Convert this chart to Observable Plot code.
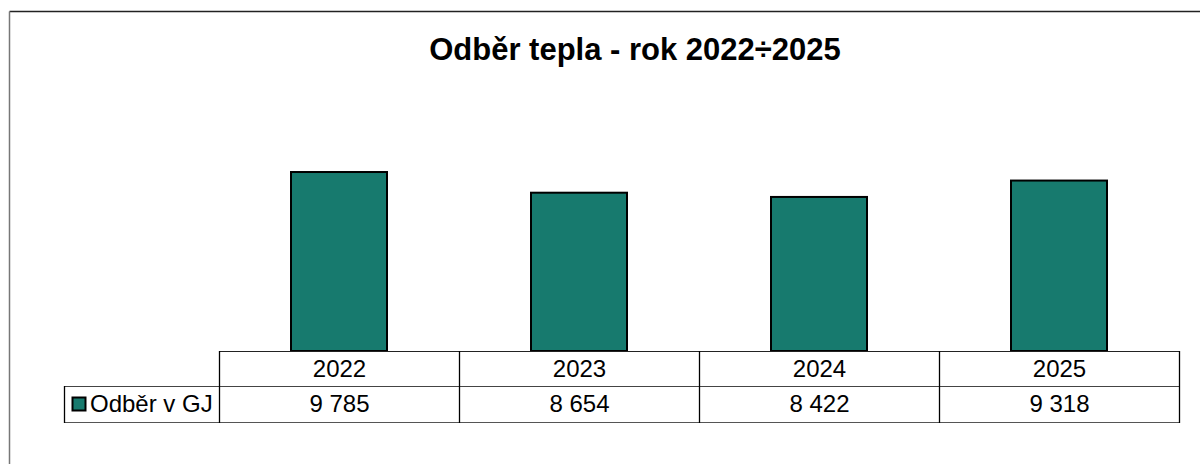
<!DOCTYPE html>
<html>
<head>
<meta charset="utf-8">
<script src="https://cdn.jsdelivr.net/npm/d3@7"></script>
<script src="https://cdn.jsdelivr.net/npm/@observablehq/plot@0.6"></script>
<style>
  html, body { margin: 0; padding: 0; background: #fff; }
  svg { display: block; }
</style>
</head>
<body>
<div id="chart"></div>
<script>
const title = "Odběr tepla - rok 2022÷2025";
const seriesName = "Odběr v GJ";
const years = ["2022", "2023", "2024", "2025"];
const values = [9785, 8654, 8422, 9318];

const data = years.map((y, i) => ({year: y, value: values[i]}));
const fmt = d3.formatLocale({decimal: ",", thousands: " ", grouping: [3], currency: ["", ""]}).format(",d");

const FONT = "'Liberation Sans', Arial, Helvetica, sans-serif";
const TEAL = "#177a6e";

const plot = Plot.plot({
  width: 1200,
  height: 464,
  marginLeft: 219,
  marginRight: 21,
  marginTop: 131.5,
  marginBottom: 113,
  style: {fontFamily: FONT, background: "#fff", overflow: "visible"},
  x: {domain: years, paddingInner: 0.6, paddingOuter: 0.3, axis: null},
  y: {domain: [0, 12000], axis: null},
  marks: [
    Plot.barY(data, {x: "year", y: "value", fill: TEAL, stroke: "#000", strokeWidth: 2}),
    Plot.text(data, {x: "year", text: d => d.year, frameAnchor: "bottom", lineAnchor: "middle", dy: 18, fontSize: 24, fontFamily: FONT, fill: "#000"}),
    Plot.text(data, {x: "year", text: d => fmt(d.value), frameAnchor: "bottom", lineAnchor: "middle", dy: 53, fontSize: 24, fontFamily: FONT, fill: "#000"})
  ]
});

const svg = d3.select(plot);
const x = plot.scale("x");
const step = x.step;
const bw = x.bandwidth;
const centers = years.map(y => x.apply(y) + bw / 2);
const left = centers[0] - step / 2;
const right = centers[centers.length - 1] + step / 2;
const tTop = 351, tMid = 386, tBot = 422, legL = 64;

const g = svg.append("g").style("fill", "none");
function line(x1, y1, x2, y2, color, w) {
  g.append("line").attr("x1", x1).attr("y1", y1).attr("x2", x2).attr("y2", y2)
    .style("stroke", color).style("stroke-width", w || 1);
}
// outer chart frame (top + left visible)
line(9.5, 11.5, 1300, 11.5, "#222", 1.5);
line(9.5, 11.5, 9.5, 600, "#777", 1.5);

// table horizontal lines
line(left, tTop + 0.5, right, tTop + 0.5, "#222", 1.2);
line(legL, tMid + 0.5, right, tMid + 0.5, "#444", 1.2);
line(legL, tBot + 0.5, right, tBot + 0.5, "#555", 1.2);
// table vertical lines
const vx = [left, ...centers.slice(1).map(c => c - step / 2), right];
vx.forEach(v => line(Math.round(v) + 0.5, tTop, Math.round(v) + 0.5, tBot + 1, "#000", 1.3));
line(legL + 0.5, tMid, legL + 0.5, tBot + 1, "#000", 1.3);

// legend key + label
svg.append("rect").attr("x", 72.5).attr("y", 397.5).attr("width", 13).attr("height", 13)
  .style("fill", TEAL).style("stroke", "#000").style("stroke-width", 2);
svg.append("text").attr("x", 90).attr("y", 411.5)
  .style("font-family", FONT).style("font-size", "24px").style("text-anchor", "start")
  .style("fill", "#000").text(seriesName);

// title
svg.append("text").attr("x", 635).attr("y", 59.5)
  .style("text-anchor", "middle").style("font-family", FONT).style("font-size", "31px")
  .style("font-weight", "bold").style("fill", "#000").text(title);

document.getElementById("chart").appendChild(plot);
</script>
</body>
</html>
